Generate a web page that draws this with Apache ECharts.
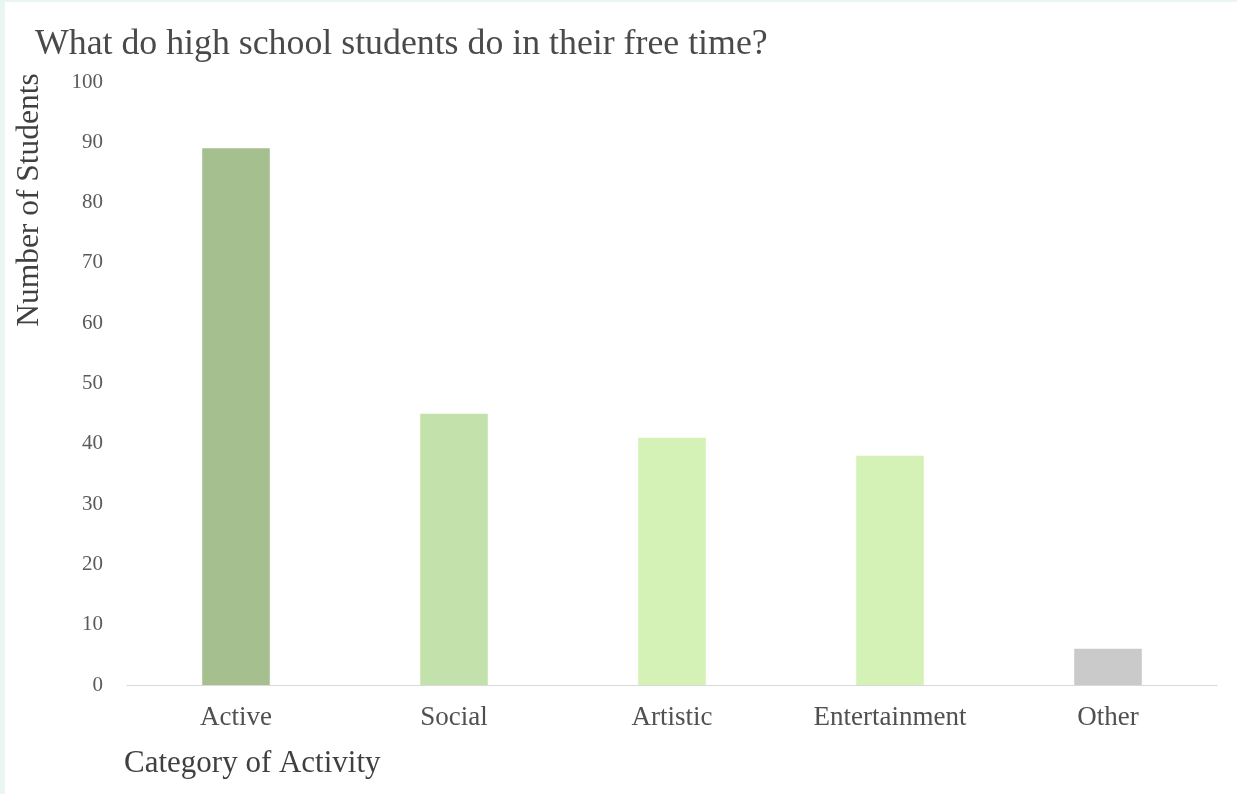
<!DOCTYPE html>
<html>
<head>
<meta charset="utf-8">
<title>Free time activities</title>
<script src="https://cdn.jsdelivr.net/npm/echarts@6/dist/echarts.min.js"></script>
<style>
  html, body { margin: 0; padding: 0; background: #e9f6f2; }
  #chart { position: absolute; left: 5px; top: 2px; width: 1232px; height: 792px; background: #ffffff; }
</style>
</head>
<body>
<div id="chart"></div>
<script>
// Survey results: number of students per activity category
const categories = ['Active', 'Social', 'Artistic', 'Entertainment', 'Other'];
const students = [89, 45, 41, 38, 6];
const barColors = ['#a6bf8f', '#c3e2ab', '#d4f1b6', '#d4f1b6', '#cacaca'];

const serif = '"Liberation Serif", "DejaVu Serif", serif';
const chart = echarts.init(document.getElementById('chart'));

chart.setOption({
  animation: false,
  backgroundColor: '#ffffff',
  title: {
    text: 'What do high school students do in their free time?',
    left: 25,
    top: 20,
    textStyle: { fontFamily: serif, fontSize: 35.8, fontWeight: 'normal', color: '#4a4a4a' }
  },
  grid: { left: 122, right: 20, top: 80, bottom: 109 },
  xAxis: {
    type: 'category',
    data: categories,
    axisLine: { lineStyle: { color: '#d9d9d9', width: 1 } },
    axisTick: { show: false },
    axisLabel: { fontFamily: serif, fontSize: 27, color: '#505050', margin: 19 }
  },
  yAxis: {
    type: 'value',
    min: 0,
    max: 100,
    interval: 10,
    splitLine: { show: false },
    axisLine: { show: false },
    axisTick: { show: false },
    axisLabel: { fontFamily: serif, fontSize: 21, color: '#5a5a5a', margin: 24 }
  },
  series: [{
    type: 'bar',
    barWidth: '31%',
    data: students.map((v, i) => ({ value: v, itemStyle: { color: barColors[i] } }))
  }],
  graphic: [
    {
      type: 'text',
      x: 25,
      y: 198,
      rotation: Math.PI / 2,
      style: {
        text: 'Number of Students',
        fontFamily: serif,
        fontSize: 31.5,
        fill: '#404040',
        align: 'center',
        verticalAlign: 'middle'
      }
    },
    {
      type: 'text',
      x: 119,
      y: 762,
      style: {
        text: 'Category of Activity',
        fontFamily: serif,
        fontSize: 31,
        fill: '#404040',
        align: 'left',
        verticalAlign: 'middle'
      }
    }
  ]
});
</script>
</body>
</html>
